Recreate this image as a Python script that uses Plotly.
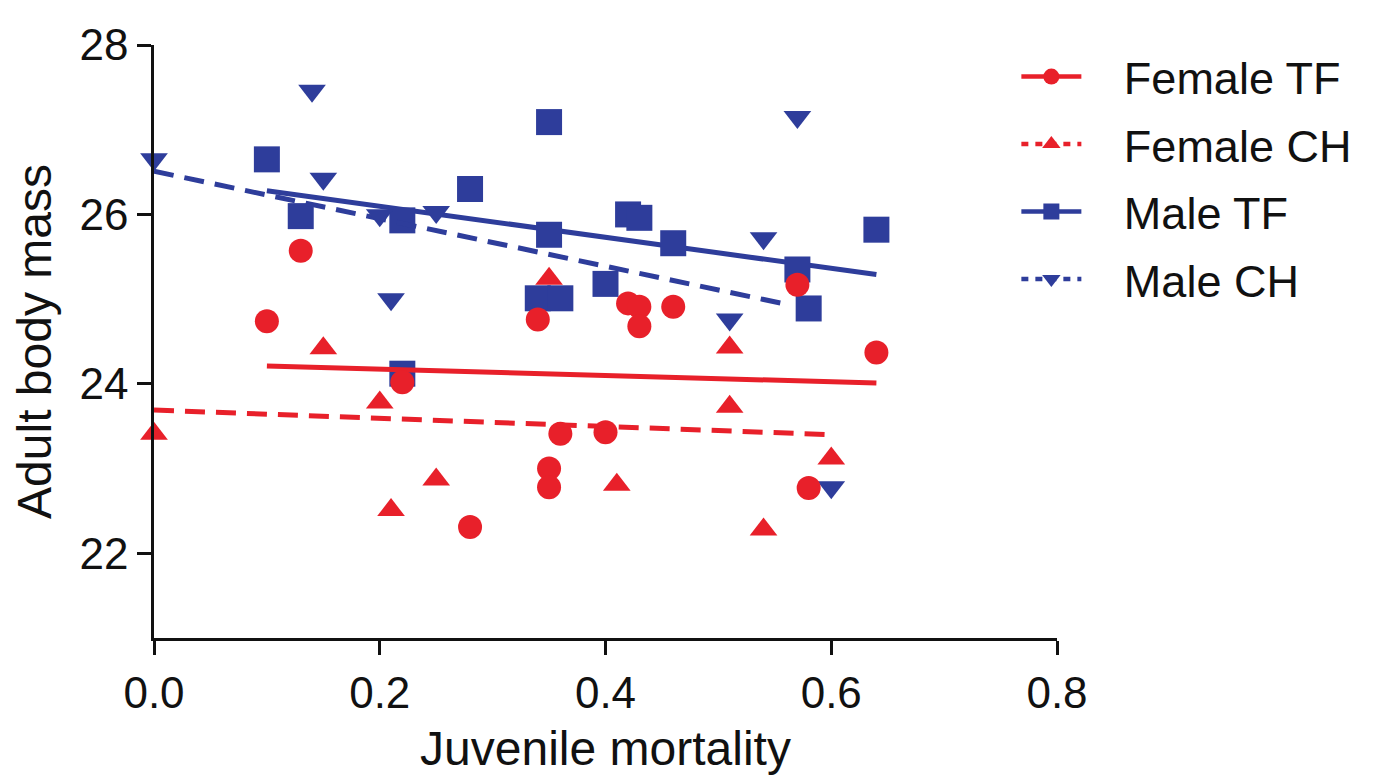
import plotly.graph_objects as go

# ── Data ───────────────────────────────────────────────────────────────────
female_tf_x = [0.10, 0.13, 0.22, 0.28, 0.34, 0.35, 0.35, 0.36, 0.40, 0.42, 0.43, 0.43, 0.46, 0.57, 0.58, 0.64]
female_tf_y = [24.74, 25.57, 24.02, 22.31, 24.76, 23.00, 22.78, 23.41, 23.43, 24.95, 24.91, 24.68, 24.91, 25.17, 22.77, 24.37]

female_ch_x = [0.00, 0.15, 0.20, 0.21, 0.25, 0.35, 0.41, 0.51, 0.51, 0.54, 0.60]
female_ch_y = [23.41, 24.42, 23.78, 22.51, 22.87, 25.24, 22.81, 24.43, 23.73, 22.28, 23.12]

male_tf_x = [0.10, 0.13, 0.22, 0.22, 0.28, 0.34, 0.35, 0.35, 0.36, 0.40, 0.42, 0.43, 0.46, 0.57, 0.58, 0.64]
male_tf_y = [26.65, 25.98, 25.93, 24.12, 26.30, 25.01, 27.09, 25.76, 25.01, 25.18, 26.00, 25.96, 25.66, 25.35, 24.89, 25.82]

male_ch_x = [0.00, 0.14, 0.15, 0.20, 0.21, 0.25, 0.51, 0.54, 0.57, 0.60]
male_ch_y = [26.65, 27.46, 26.42, 25.99, 25.00, 26.03, 24.76, 25.72, 27.15, 22.78]

# regression lines (end points)
fit_female_tf_x = [0.10, 0.64]
fit_female_tf_y = [24.21, 24.01]
fit_female_ch_x = [0.00, 0.60]
fit_female_ch_y = [23.69, 23.40]
fit_male_tf_x = [0.10, 0.64]
fit_male_tf_y = [26.28, 25.29]
fit_male_ch_x = [0.00, 0.56]
fit_male_ch_y = [26.51, 24.94]

x_ticks = [0.0, 0.2, 0.4, 0.6, 0.8]
y_ticks = [22, 24, 26, 28]

RED = "#e8202a"
BLUE = "#2e3d9b"
INK = "#111111"
FONT = "Arial, Liberation Sans, sans-serif"
GAP = "\u00a0\u00a0\u00a0"   # extra room between legend symbol and label

series = [
    # name, x, y, fit x, fit y, colour, symbol, dash, legend rank
    ("Male TF", male_tf_x, male_tf_y, fit_male_tf_x, fit_male_tf_y, BLUE, "square", "solid", 3),
    ("Male CH", male_ch_x, male_ch_y, fit_male_ch_x, fit_male_ch_y, BLUE, "triangle-down", "20px,11px", 4),
    ("Female TF", female_tf_x, female_tf_y, fit_female_tf_x, fit_female_tf_y, RED, "circle", "solid", 1),
    ("Female CH", female_ch_x, female_ch_y, fit_female_ch_x, fit_female_ch_y, RED, "triangle-up", "20px,11px", 2),
]

size_of = {"square": 26, "circle": 24, "triangle-up": 24, "triangle-down": 24}

fig = go.Figure()
for name, xs, ys, fx, fy, col, sym, dash, rank in series:
    fig.add_trace(go.Scatter(
        x=fx, y=fy, mode="lines",
        line=dict(color=col, width=5, dash=dash),
        showlegend=False, hoverinfo="skip", cliponaxis=False,
    ))
    fig.add_trace(go.Scatter(
        x=xs, y=ys, mode="markers", name=name,
        marker=dict(symbol=sym, size=size_of[sym], color=col, line=dict(width=0)),
        showlegend=False, cliponaxis=False,
    ))
    # legend entry: line + marker
    fig.add_trace(go.Scatter(
        x=[None], y=[None], mode="lines+markers", name=GAP + name,
        line=dict(color=col, width=4.5, dash="solid" if dash == "solid" else "7px,7px"),
        marker=dict(symbol=sym, size=20, color=col),
        legendrank=rank, legendgroup=name,
    ))

# page body has an 8px margin, so the figure is trimmed to fit the window
fig.update_layout(
    width=1375, height=774,
    margin=dict(l=146, r=326, t=25, b=144),
    paper_bgcolor="white",
    plot_bgcolor="white",
    font=dict(family=FONT, size=44, color=INK),
    legend=dict(
        x=0.955, y=1.007, xanchor="left", yanchor="top",
        font=dict(size=45, color=INK),
        itemwidth=60,
        tracegroupgap=6,
        bgcolor="rgba(0,0,0,0)",
    ),
    xaxis=dict(
        range=[0, 0.8], tickvals=x_ticks, tickformat=".1f",
        showgrid=False, zeroline=False,
        showline=True, linecolor=INK, linewidth=2.5,
        ticks="outside", ticklen=14, tickwidth=2.5, tickcolor=INK,
        tickfont=dict(size=44),
        title=dict(text="Juvenile mortality", font=dict(size=48), standoff=16),
    ),
    yaxis=dict(
        range=[21, 28], tickvals=y_ticks,
        showgrid=False, zeroline=False,
        showline=True, linecolor=INK, linewidth=2.5,
        ticks="outside", ticklen=14, tickwidth=2.5, tickcolor=INK,
        tickfont=dict(size=44),
        title=dict(text="Adult body mass", font=dict(size=48), standoff=16),
    ),
)

fig.write_html("out.html")
